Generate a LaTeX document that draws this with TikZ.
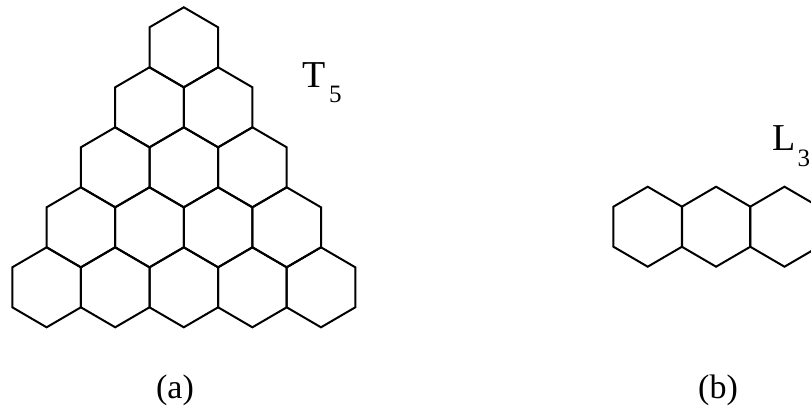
\documentclass[tikz,border=0pt]{standalone}
\usepackage{fontspec}
\setmainfont{Liberation Serif}

\begin{document}
\begin{tikzpicture}[
  x=1pt, y=-1pt,
  cell/.style={draw=black, line width=2pt, line join=miter},
  hexcell/.pic={\path[cell] (0,-40) -- (34.3,-20) -- (34.3,20) -- (0,40)
                 -- (-34.3,20) -- (-34.3,-20) -- cycle;},
  biglabel/.style={inner sep=0pt, anchor=base west, font=\fontsize{38}{42}\selectfont},
  sublabel/.style={inner sep=0pt, anchor=base west, font=\fontsize{25}{28}\selectfont},
  caption/.style={inner sep=0pt, anchor=base, font=\fontsize{34}{38}\selectfont},
]
  \useasboundingbox (0,0) rectangle (811,408);
  \clip (0,0) rectangle (811,408);

  % triangle T_5, rows from the top
  \foreach \r in {0,...,4}
    \foreach \k in {0,...,\r}
      \pic at ({183.8-34.3*\r+68.6*\k}, {47.3+60*\r}) {hexcell};

  % chain L_3
  \foreach \k in {0,1,2}
    \pic at ({647.7+68.4*\k}, 226.7) {hexcell};

  \node[biglabel] (tname) at (302,87.8) {T};
  \node[sublabel] (tsub) at (329,102) {5};
  \node[biglabel] (lname) at (772.5,150) {L};
  \node[sublabel] (lsub) at (797.5,166) {3};

  \node[caption] (capa) at (175,398) {(a)};
  \node[caption] (capb) at (718,398) {(b)};
\end{tikzpicture}
\end{document}
